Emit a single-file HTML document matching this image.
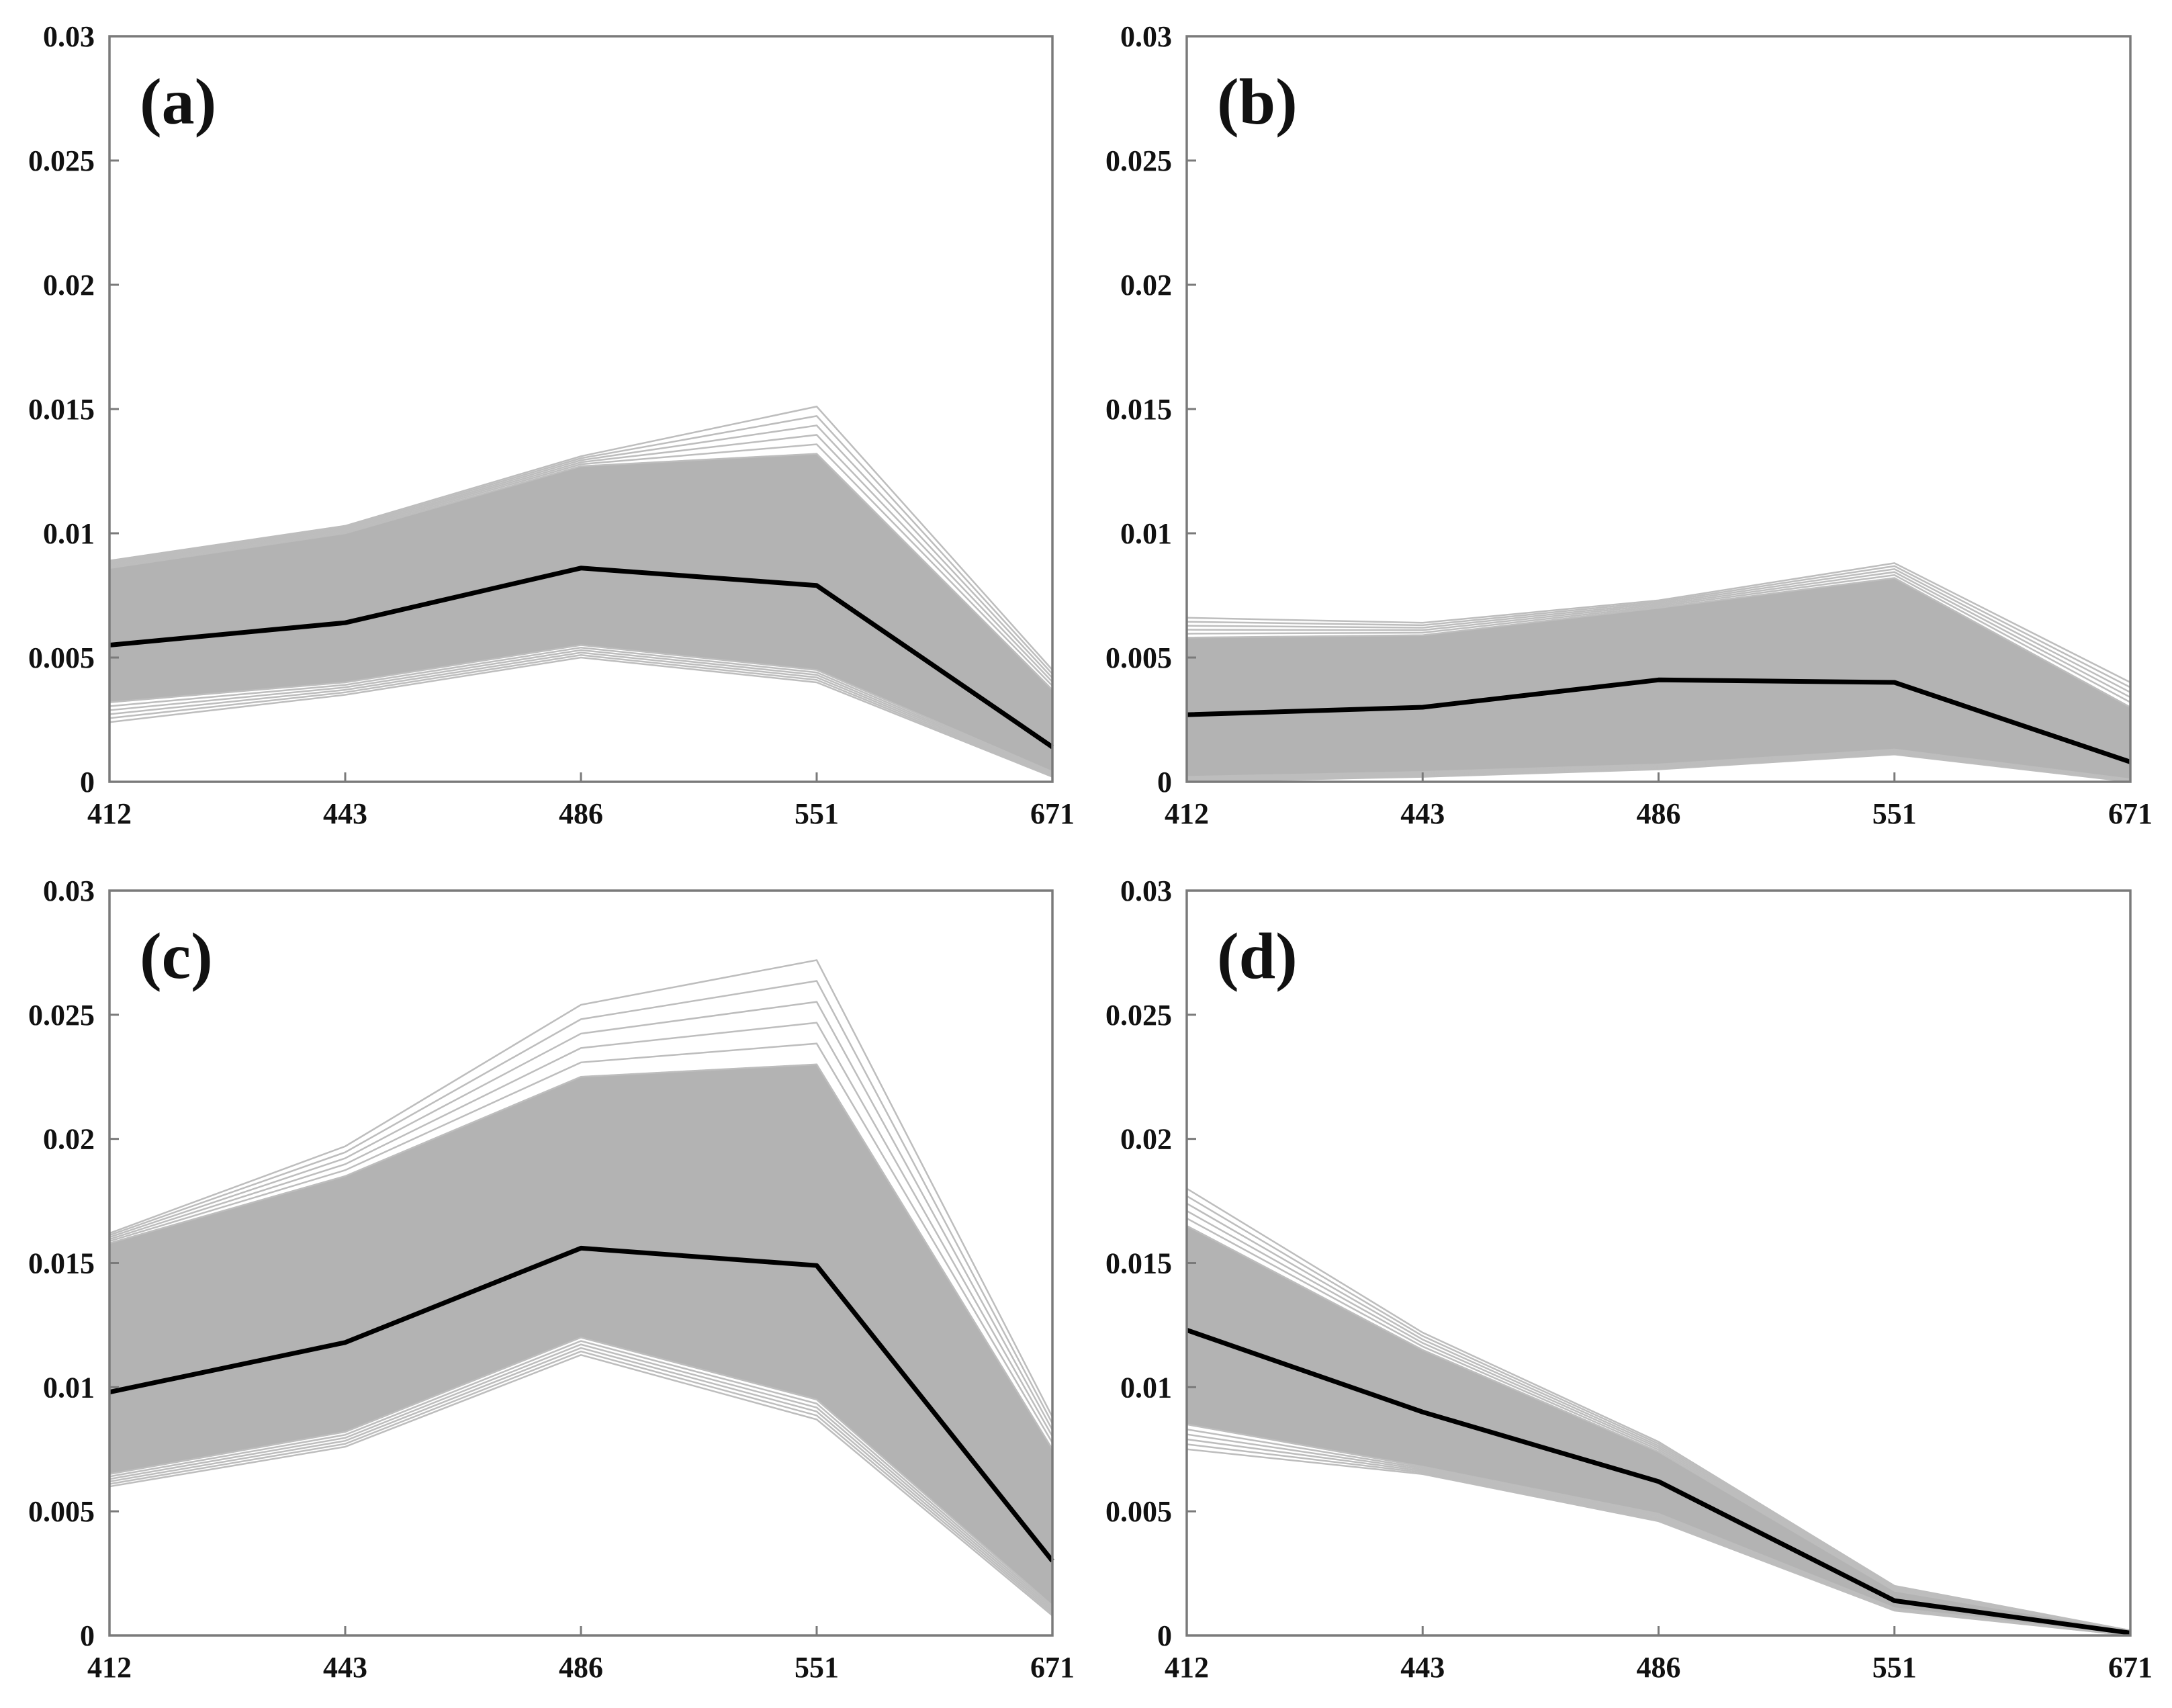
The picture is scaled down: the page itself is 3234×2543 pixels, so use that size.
<!DOCTYPE html>
<html><head><meta charset="utf-8"><style>
html,body{margin:0;padding:0;background:#fff;}
svg{display:block;}
text{font-family:"Liberation Serif",serif;font-weight:bold;fill:#111;}
</style></head><body>
<svg id="fig" width="3234" height="2543" viewBox="0 0 3234 2543"></svg>
<script>
const categories = ["412","443","486","551","671"];
const yTicks = [0,0.005,0.01,0.015,0.02,0.025,0.03];
const yTickLabels = ["0","0.005","0.01","0.015","0.02","0.025","0.03"];
const panelLabels = ["(a)","(b)","(c)","(d)"];
const meanA = [0.0055,0.0064,0.0086,0.0079,0.0014];
const coreLowA = [0.0032,0.0040,0.0055,0.0045,0.0004];
const coreHighA = [0.0086,0.0100,0.0127,0.0132,0.0037];
const outLowA = [0.0024,0.0035,0.0050,0.0040,0.0002];
const outHighA = [0.0089,0.0103,0.0131,0.0151,0.0045];
const meanB = [0.0027,0.0030,0.0041,0.0040,0.0008];
const coreLowB = [0.0002,0.0004,0.0007,0.0013,0.0001];
const coreHighB = [0.0058,0.0059,0.0070,0.0082,0.0030];
const outLowB = [0.0000,0.0002,0.0005,0.0011,0.0000];
const outHighB = [0.0066,0.0064,0.0073,0.0088,0.0040];
const meanC = [0.0098,0.0118,0.0156,0.0149,0.0030];
const coreLowC = [0.0065,0.0082,0.0120,0.0095,0.0012];
const coreHighC = [0.0158,0.0185,0.0225,0.0230,0.0075];
const outLowC = [0.0060,0.0076,0.0113,0.0087,0.0008];
const outHighC = [0.0162,0.0197,0.0254,0.0272,0.0088];
const meanD = [0.0123,0.0090,0.0062,0.0014,0.0001];
const coreLowD = [0.0085,0.0068,0.0049,0.0011,0.0000];
const coreHighD = [0.0165,0.0115,0.0074,0.0018,0.0002];
const outLowD = [0.0075,0.0065,0.0046,0.0010,0.0000];
const outHighD = [0.0180,0.0122,0.0078,0.0020,0.0002];

const panels = [
 {x0:163,x1:1567,y0:54,y1:1164,mean:meanA,cl:coreLowA,ch:coreHighA,ol:outLowA,oh:outHighA},
 {x0:1767,x1:3172,y0:54,y1:1164,mean:meanB,cl:coreLowB,ch:coreHighB,ol:outLowB,oh:outHighB},
 {x0:163,x1:1567,y0:1326,y1:2435,mean:meanC,cl:coreLowC,ch:coreHighC,ol:outLowC,oh:outHighC},
 {x0:1767,x1:3172,y0:1326,y1:2435,mean:meanD,cl:coreLowD,ch:coreHighD,ol:outLowD,oh:outHighD}
];
const NS="http://www.w3.org/2000/svg";
const svg=document.getElementById('fig');
function mk(tag,attrs,parent){const e=document.createElementNS(NS,tag);for(const k in attrs)e.setAttribute(k,attrs[k]);(parent||svg).appendChild(e);return e;}
panels.forEach((p,pi)=>{
  const g=mk('g',{});
  
  
  const xs=i=>p.x0+(p.x1-p.x0)*i/(categories.length-1);
  const ys=v=>p.y1-(p.y1-p.y0)*v/0.03;
  const pts=a=>a.map((v,i)=>xs(i)+','+ys(v)).join(' ');
  const band=mk('polygon',{points:pts(p.ch)+' '+p.cl.map((v,i)=>xs(i)+','+ys(v)).reverse().join(' '),fill:'#b3b3b3',stroke:'#b3b3b3','stroke-width':2},g);
  
  
  [0,0.2,0.4,0.6,0.8,1].forEach(t=>{
    const hi=p.ch.map((v,i)=>v+(p.oh[i]-v)*t);
    const lo=p.cl.map((v,i)=>v+(p.ol[i]-v)*t);
    const l1=mk('polyline',{points:pts(hi),fill:'none',stroke:'#bdbdbd','stroke-width':2.5},g);
    
    
    const l2=mk('polyline',{points:pts(lo),fill:'none',stroke:'#bdbdbd','stroke-width':2.5},g);
    
    
  });
  const m=mk('polyline',{points:pts(p.mean),fill:'none',stroke:'#000','stroke-width':7,'stroke-linejoin':'round'},g);
  
  
  const box=mk('rect',{x:p.x0,y:p.y0,width:p.x1-p.x0,height:p.y1-p.y0,fill:'none',stroke:'#7a7a7a','stroke-width':3.5},g);
  
  
  yTicks.forEach((v,i)=>{
    mk('line',{x1:p.x0,x2:p.x0+14,y1:ys(v),y2:ys(v),stroke:'#7a7a7a','stroke-width':3},g);
    const t=mk('text',{x:p.x0-22,y:ys(v)+15,'text-anchor':'end','font-size':44},g);
    t.textContent=yTickLabels[i];
    
    
  });
  categories.forEach((c,i)=>{
    mk('line',{x1:xs(i),x2:xs(i),y1:p.y1,y2:p.y1-14,stroke:'#7a7a7a','stroke-width':3},g);
    const t=mk('text',{x:xs(i),y:p.y1+62,'text-anchor':'middle','font-size':44},g);
    t.textContent=c;
    
    
  });
  const lab=mk('text',{x:p.x0+45,y:p.y0+130,'font-size':98},g);
  lab.textContent=panelLabels[pi];
  
  
});
</script>
</body></html>
